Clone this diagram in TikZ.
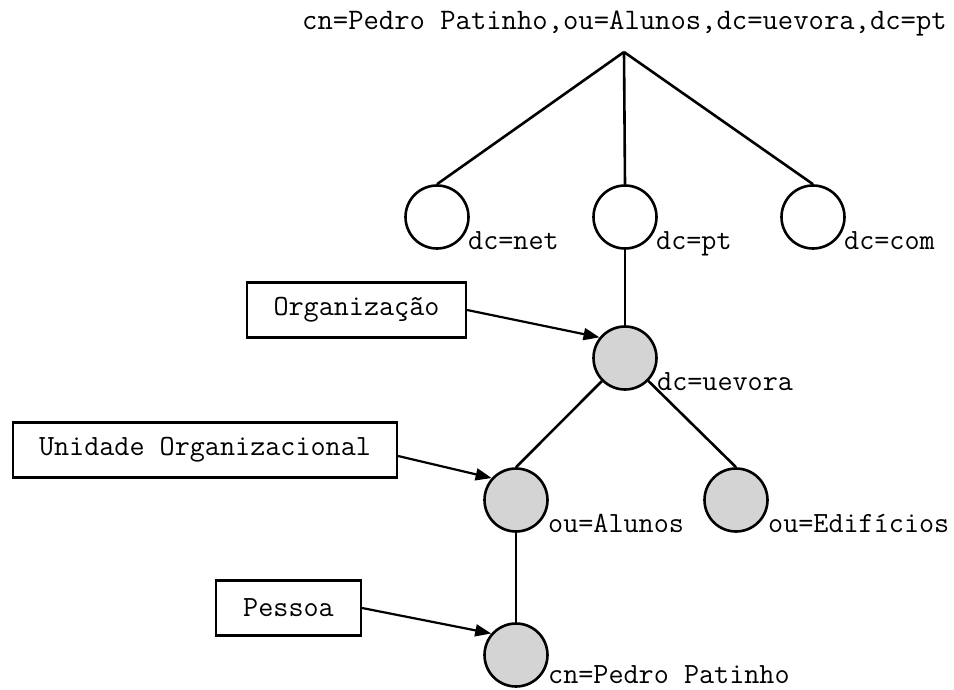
\documentclass[tikz,border=0pt]{standalone}
\usetikzlibrary{arrows.meta}
\begin{document}
\begin{tikzpicture}[x=1pt,y=-1pt,
  txt/.style={font=\ttfamily\fontsize{29.3}{34}\selectfont},
  entry/.style={circle,draw=black,line width=2.6pt,minimum size=63pt,inner sep=0pt},
  used/.style={entry,fill=black!17},
  lbl/.style={txt,anchor=base west,inner sep=0pt},
  tag/.style={txt,draw=black,line width=2.2pt,minimum height=55pt,inner sep=0pt},
  edge/.style={line width=2.6pt},
  pointer/.style={line width=2.2pt,-{Triangle[length=16pt,width=12pt]}}
]
\useasboundingbox (0,0) rectangle (954,690);
\node[txt,anchor=base,inner sep=0pt,font=\ttfamily\fontsize{29.8}{34}\selectfont] (dn) at (624.5,30) {cn=Pedro Patinho,ou=Alunos,dc=uevora,dc=pt};
\coordinate (apex) at (624,52);

\node[entry] (net) at (437,217) {};
\node[entry] (pt) at (625,217) {};
\node[entry] (com) at (813,217) {};
\node[lbl] (netl) at (468,250) {dc=net};
\node[lbl] (ptl) at (656,250) {dc=pt};
\node[lbl] (coml) at (844,250) {dc=com};

\node[used] (uevora) at (625,358) {};
\node[lbl] (uevoral) at (657,390) {dc=uevora};

\node[used] (alunos) at (516,500) {};
\node[used] (edif) at (736,500) {};
\node[lbl] (alunosl) at (548,532) {ou=Alunos};
\node[lbl] (edifl) at (768,532) {ou=Edifícios};

\node[used] (pedro) at (516,655) {};
\node[lbl] (pedrol) at (548,683) {cn=Pedro Patinho};

\node[tag,minimum width=219pt] (org) at (356.5,310) {Organização};
\node[tag,minimum width=384pt] (uni) at (205,450) {Unidade Organizacional};
\node[tag,minimum width=145pt] (pes) at (288.5,608) {Pessoa};

\draw[edge] (apex) -- (net.north);
\draw[edge] (apex) -- (pt.north);
\draw[edge] (apex) -- (com.north);
\draw[edge] (pt.south) -- (uevora.north);
\draw[edge] (uevora) -- (alunos.north);
\draw[edge] (uevora) -- (edif.north);
\draw[edge] (alunos.south) -- (pedro.north);

\draw[pointer] (org.east) -- (uevora.141);
\draw[pointer] ([yshift=-6pt]uni.east) -- (alunos.138);
\draw[pointer] (pes.east) -- (pedro.139);
\end{tikzpicture}
\end{document}
